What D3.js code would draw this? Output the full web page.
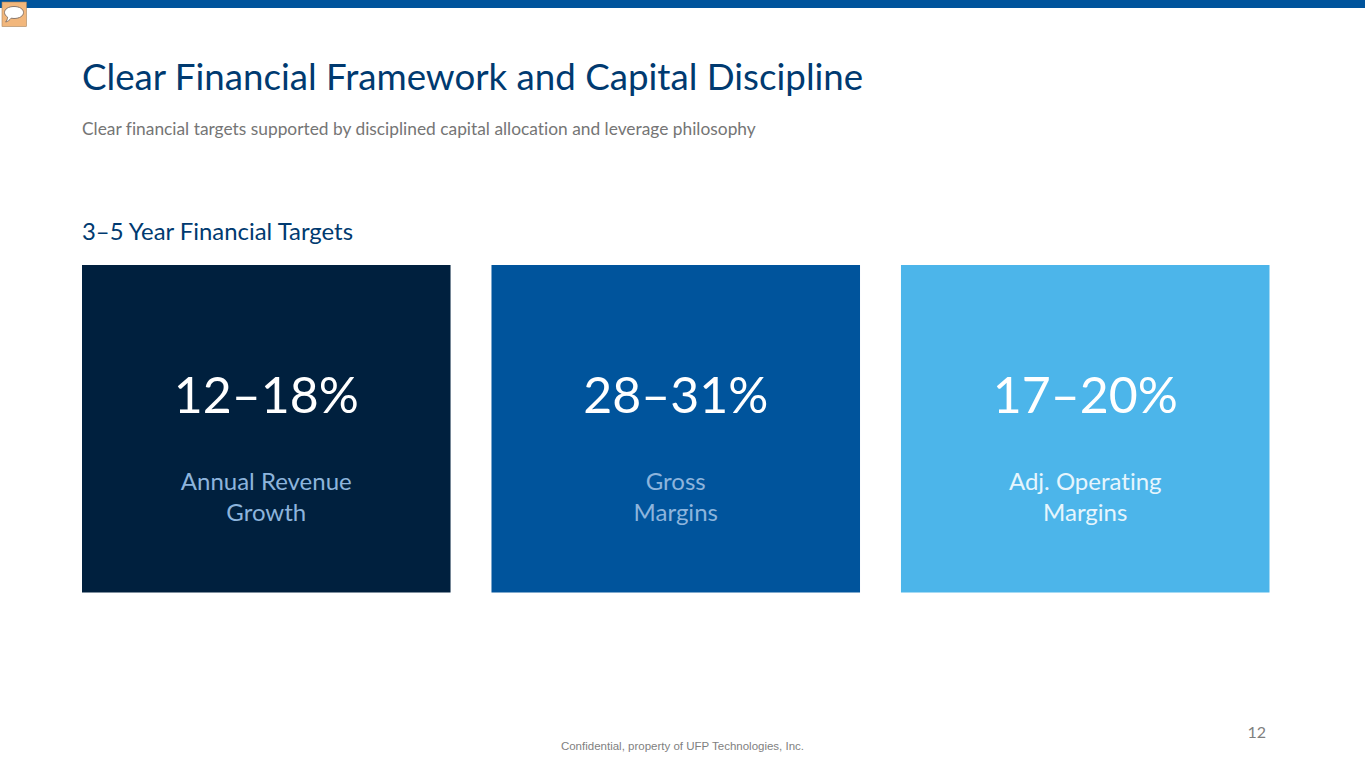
<!DOCTYPE html>
<html>
<head>
<meta charset="utf-8">
<title>Clear Financial Framework and Capital Discipline</title>
<script src="https://cdn.jsdelivr.net/npm/d3@7"></script>
<style>
html, body { margin: 0; padding: 0; background: #fff; overflow: hidden; }
svg { display: block; }
text { font-family: Lato, "Open Sans", sans-serif; font-variant-ligatures: none; }
</style>
</head>
<body>
<svg></svg>
<script>
const width = 1365;
const height = 768;

const ranges = ["12–18%", "28–31%", "17–20%"];
const labels = [["Annual Revenue", "Growth"], ["Gross", "Margins"], ["Adj. Operating", "Margins"]];
const cardColors = ["#00203e", "#00549c", "#4cb5ea"];
const labelColors = ["#8db4dc", "#8db4dc", "#e6f5fd"];

let svg = d3.select("svg")
    .attr("width", width)
    .attr("height", height);

// top bar
svg.append("rect")
    .attr("width", width)
    .attr("height", 8)
    .attr("fill", "#00549c");

// comment icon in the corner
let icon = svg.append("g");
icon.append("rect")
    .attr("x", 2).attr("y", 2)
    .attr("width", 24.5).attr("height", 24.5)
    .attr("fill", "#f2b77c")
    .attr("stroke", "#a8845c")
    .attr("stroke-width", 0.6);
icon.append("path")
    .attr("d", "M14 6.500c5.500 0 9.500 2.500 9.500 6s-4 6-9.500 6c-1 0-2 -.1-2.900-.3C9.800 20 7.800 21.600 5.600 22c1.200-1.300 1.900-3 2-4.800C5.800 16 4.500 14.400 4.500 12.500c0-3.500 4-6 9.500-6z")
    .attr("fill", "#fff")
    .attr("stroke", "#8a7668")
    .attr("stroke-width", 1);

function addText(x, y, str, size, color, anchor) {
    return svg.append("text")
        .attr("x", x)
        .attr("y", y)
        .attr("text-anchor", anchor || "start")
        .style("font-size", size + "px")
        .attr("fill", color)
        .text(str);
}

addText(82, 90, "Clear Financial Framework and Capital Discipline", 36.7, "#003a70");
addText(82, 135, "Clear financial targets supported by disciplined capital allocation and leverage philosophy", 17.35, "#757575");
addText(82, 240, "3–5 Year Financial Targets", 23.9, "#003a70");

let scX = d3.scaleBand()
    .domain(ranges)
    .range([82, 1269.5])
    .paddingInner(0.1);

let cards = svg.selectAll(".card")
    .data(ranges)
    .enter()
    .append("g")
    .attr("class", "card")
    .attr("transform", d => `translate(${scX(d)}, 265)`);

cards.append("rect")
    .attr("width", scX.bandwidth())
    .attr("height", 327.5)
    .attr("fill", (d, i) => cardColors[i]);

cards.append("text")
    .attr("x", scX.bandwidth() / 2)
    .attr("y", 148)
    .attr("text-anchor", "middle")
    .style("font-size", "50px")
    .attr("fill", "#fff")
    .text(d => d);

cards.each(function (d, i) {
    d3.select(this).selectAll(".lbl")
        .data(labels[i])
        .enter()
        .append("text")
        .attr("class", "lbl")
        .attr("x", scX.bandwidth() / 2)
        .attr("y", (t, j) => 225 + j * 31)
        .attr("text-anchor", "middle")
        .style("font-size", "24px")
        .attr("fill", labelColors[i])
        .text(t => t);
});

addText(1266, 738, "12", 16, "#7f7f7f", "end");
svg.append("text")
    .attr("x", 682.5)
    .attr("y", 750)
    .attr("text-anchor", "middle")
    .style("font-family", "'Liberation Sans', Arial, sans-serif")
    .style("font-size", "11.5px")
    .attr("fill", "#7f7f7f")
    .text("Confidential, property of UFP Technologies, Inc.");
</script>
</body>
</html>
